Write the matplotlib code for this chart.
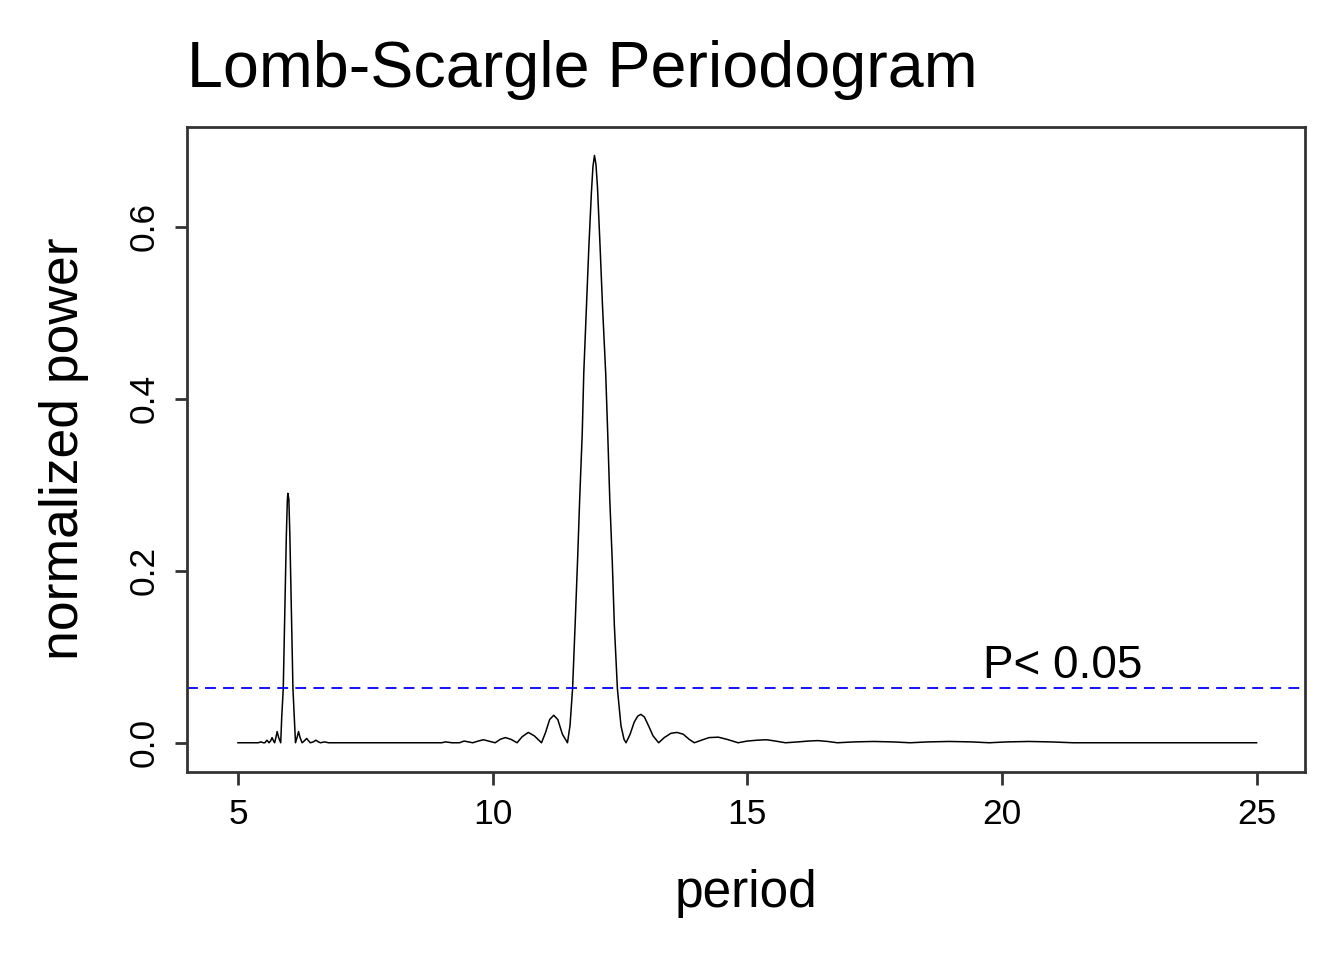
import matplotlib.pyplot as plt
import numpy as np

plt.rcParams['font.family'] = ['Liberation Sans', 'DejaVu Sans']

# periodogram: period, normalized power
period = [5.00, 5.40, 5.45, 5.50, 5.53, 5.57, 5.61, 5.64, 5.67, 5.70, 5.72, 5.745, 5.77, 5.80,
          5.84, 5.86, 5.89, 5.91, 5.93, 5.95, 5.97, 5.98, 6.00, 6.02, 6.04, 6.06, 6.08, 6.11,
          6.13, 6.16, 6.19, 6.22, 6.26, 6.30, 6.35, 6.39, 6.42, 6.48, 6.53, 6.58, 6.62, 6.70,
          6.78, 9.00, 9.08, 9.20, 9.35, 9.44, 9.52, 9.61, 9.72, 9.82, 9.92, 10.05, 10.15, 10.25,
          10.36, 10.48, 10.58, 10.70, 10.82, 10.96, 11.04, 11.12, 11.20, 11.28, 11.37, 11.47,
          11.52, 11.57, 11.62, 11.67, 11.71, 11.76, 11.79, 11.84, 11.89, 11.94, 11.97, 12.00,
          12.03, 12.06, 12.11, 12.16, 12.22, 12.26, 12.30, 12.35, 12.39, 12.45, 12.52, 12.58,
          12.62, 12.70, 12.78, 12.85, 12.91, 12.98, 13.06, 13.15, 13.26, 13.37, 13.50, 13.62,
          13.74, 13.86, 13.96, 14.10, 14.25, 14.43, 14.60, 14.82, 15.00, 15.20, 15.38, 15.55,
          15.75, 16.00, 16.20, 16.39, 16.58, 16.77, 17.10, 17.48, 17.85, 18.20, 18.55, 18.97,
          19.40, 19.75, 20.10, 20.53, 20.95, 21.40, 25.00]
power = [0.000, 0.000, 0.001, 0.000, 0.000, 0.003, 0.000, 0.002, 0.006, 0.002, 0.000, 0.006, 0.013, 0.006,
         0.000, 0.030, 0.063, 0.120, 0.180, 0.240, 0.282, 0.290, 0.283, 0.240, 0.180, 0.120, 0.063, 0.025,
         0.000, 0.006, 0.013, 0.006, 0.000, 0.002, 0.005, 0.002, 0.000, 0.001, 0.003, 0.001, 0.000, 0.001,
         0.000, 0.000, 0.001, 0.000, 0.000, 0.002, 0.001, 0.000, 0.002, 0.0035, 0.002, 0.000, 0.004, 0.006,
         0.004, 0.000, 0.007, 0.012, 0.008, 0.000, 0.012, 0.027, 0.032, 0.027, 0.010, 0.000,
         0.020, 0.063, 0.137, 0.215, 0.284, 0.360, 0.430, 0.505, 0.577, 0.640, 0.670, 0.683,
         0.672, 0.645, 0.577, 0.505, 0.430, 0.360, 0.284, 0.210, 0.137, 0.063, 0.020, 0.004,
         0.000, 0.010, 0.024, 0.031, 0.033, 0.030, 0.020, 0.008, 0.000, 0.006, 0.011, 0.012,
         0.010, 0.004, 0.000, 0.003, 0.006, 0.0065, 0.004, 0.000, 0.002, 0.003, 0.0035, 0.002,
         0.000, 0.001, 0.002, 0.0025, 0.0015, 0.000, 0.001, 0.0015, 0.001, 0.000, 0.001, 0.0015,
         0.001, 0.000, 0.001, 0.0015, 0.001, 0.000, 0.000]
sig_level = 0.064
x_ticks = [5, 10, 15, 20, 25]
y_ticks = [0.0, 0.2, 0.4, 0.6]

fig = plt.figure(figsize=(13.44, 9.6), dpi=100)
ax = fig.add_axes([187/1344, 1 - 772/960, (1305 - 187)/1344, (772 - 127)/960])

ax.plot(period, power, color='black', lw=1.1)
ax.axhline(sig_level, color='blue', lw=1.3, ls=(0, (6, 4)))
ax.text(21.2, sig_level, 'P< 0.05', ha='center', va='bottom', fontsize=33)

ax.set_xlim(4.0, 25.95)
ax.set_ylim(-0.034, 0.716)
ax.set_xticks(x_ticks)
ax.set_xticklabels([str(t) for t in x_ticks])
ax.set_yticks(y_ticks)
ax.set_yticklabels(['%.1f' % t for t in y_ticks], rotation=90, va='center')
ax.tick_params(direction='out', length=9, width=2, color='#333333', labelsize=25.5, pad=10)
for s in ax.spines.values():
    s.set_color('#333333')
    s.set_linewidth(2)

fig.text(187/1344, 1 - 87/960, 'Lomb-Scargle Periodogram', fontsize=46.5, va='baseline', ha='left')
fig.text(746/1344, 1 - 907/960, 'period', fontsize=37, va='baseline', ha='center')
fig.text(78/1344, 1 - 449/960, 'normalized power', fontsize=38.5, va='baseline', ha='center',
         rotation=90, rotation_mode='anchor')

fig.savefig('out.png', dpi=100)
